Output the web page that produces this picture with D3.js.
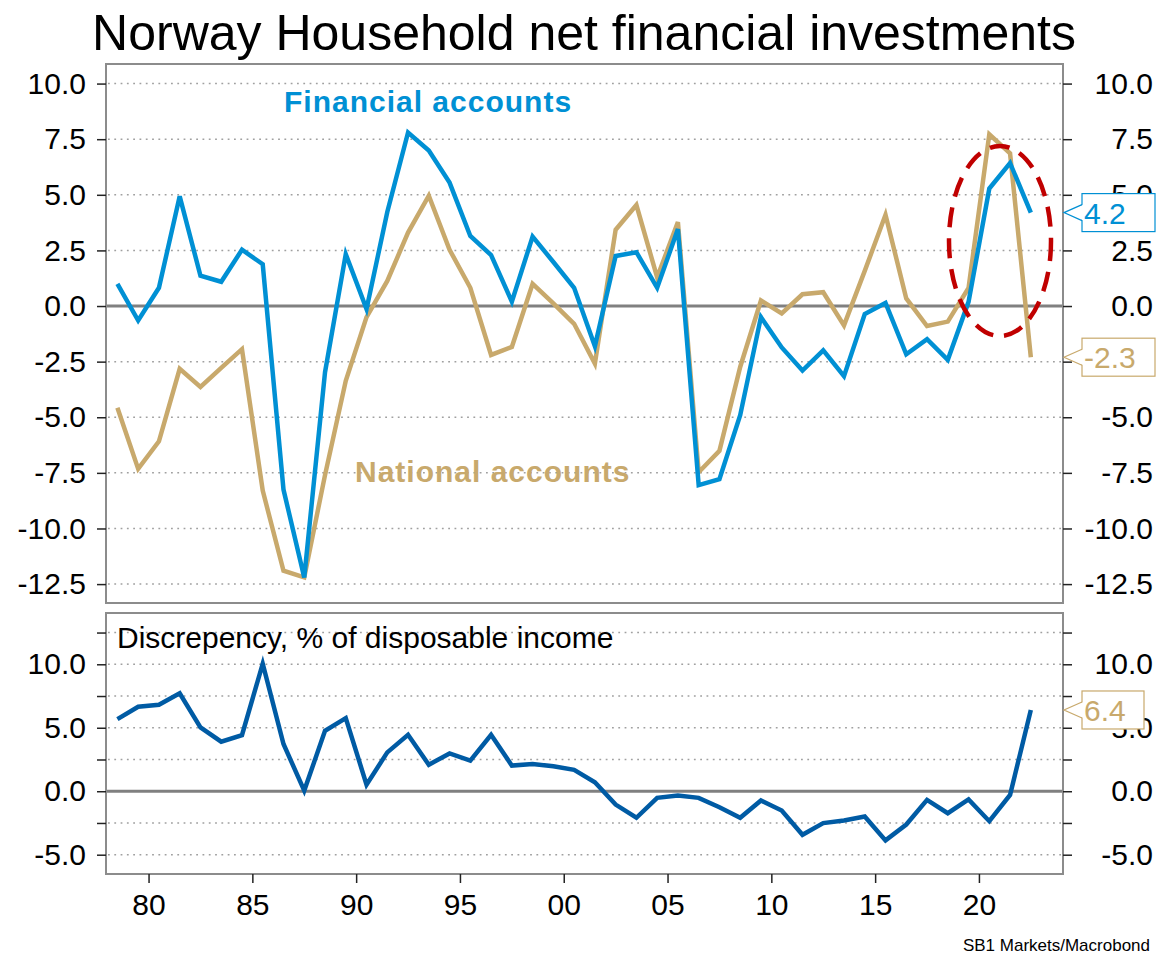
<!DOCTYPE html>
<html>
<head>
<meta charset="utf-8">
<script src="https://cdn.jsdelivr.net/npm/d3@7"></script>
<style>
  body { margin: 0; background: #fff; }
  svg text { font-family: "Liberation Sans", Arial, sans-serif; }
</style>
</head>
<body>
<div id="chart"></div>
<script>
// annual data, 1978 - 2022
let years = d3.range(1978, 2023);

let financial = [1.0, -0.65, 0.82, 4.93, 1.36, 1.09, 2.53, 1.88, -8.25, -12.2,
    -2.98, 2.33, -0.14, 4.23, 7.8, 6.99, 5.55, 3.15, 2.29, 0.2,
    3.12, 1.98, 0.82, -1.81, 2.25, 2.42, 0.82, 3.46, -8.05, -7.78,
    -4.91, -0.5, -1.86, -2.9, -1.99, -3.15, -0.36, 0.14, -2.17, -1.49,
    -2.42, 0.19, 5.28, 6.43, 4.2];

let national = [-4.57, -7.32, -6.08, -2.82, -3.64, -2.78, -1.94, -8.3, -11.9, -12.2,
    -7.6, -3.36, -0.5, 1.13, 3.3, 4.96, 2.53, 0.82, -2.2, -1.84,
    1.0, 0.12, -0.8, -2.59, 3.43, 4.54, 1.29, 3.77, -7.47, -6.51,
    -2.74, 0.25, -0.33, 0.53, 0.62, -0.87, 1.58, 4.1, 0.34, -0.9,
    -0.7, 0.81, 7.72, 6.86, -2.3];

let discrepancy = [5.68, 6.65, 6.81, 7.72, 5.03, 3.9, 4.42, 10.05, 3.72, 0.05,
    4.76, 5.76, 0.52, 3.06, 4.45, 2.09, 2.98, 2.41, 4.45, 2.02,
    2.15, 1.96, 1.68, 0.71, -1.05, -2.09, -0.52, -0.34, -0.52, -1.26,
    -2.09, -0.73, -1.52, -3.43, -2.51, -2.3, -1.99, -3.87, -2.62, -0.68,
    -1.73, -0.65, -2.36, -0.29, 6.4];

let topTicks = d3.range(-12.5, 10.01, 2.5);
let bottomTicks = d3.range(-5, 12.51, 2.5);
let yearTicks = [1980, 1985, 1990, 1995, 2000, 2005, 2010, 2015, 2020];

let blue = "#0090d4", tan = "#c8a96c", darkBlue = "#005ba4",
    frameColor = "#8c8c8c", gridColor = "#a0a0a0";

let plotLeft = 106, plotRight = 1063;
let top1 = 64, bottom1 = 603, top2 = 613, bottom2 = 874;

let svg = d3.select("div#chart")
    .append("svg")
    .attr("width", 1157)
    .attr("height", 956);

svg.append("rect").attr("width", 1157).attr("height", 956).attr("fill", "#fff");

let x = d3.scaleLinear()
    .domain([1977.95, 2024.05])
    .range([plotLeft, plotRight]);

let yTop = d3.scaleLinear()
    .domain([-13.35, 10.88])
    .range([bottom1, top1]);

let yBot = d3.scaleLinear()
    .domain([-6.52, 14.04])
    .range([bottom2, top2]);

let fmt = function(v) { return (Math.abs(v) < 1e-9 ? 0 : v).toFixed(1); };

// title
svg.append("text")
    .attr("x", 584)
    .attr("y", 50)
    .attr("text-anchor", "middle")
    .style("font-size", "50px")
    .text("Norway Household net financial investments");

// grid lines + zero lines
function grid(ticks, y) {
    svg.append("g").selectAll("line")
        .data(ticks)
        .enter()
        .append("line")
        .attr("x1", plotLeft + 2)
        .attr("x2", plotRight - 2)
        .attr("y1", function(d) { return y(d); })
        .attr("y2", function(d) { return y(d); })
        .attr("stroke", gridColor)
        .attr("stroke-width", 1.5)
        .attr("stroke-dasharray", "1.8,4.5");
    svg.append("line")
        .attr("x1", plotLeft)
        .attr("x2", plotRight)
        .attr("y1", y(0))
        .attr("y2", y(0))
        .attr("stroke", "#808080")
        .attr("stroke-width", 3);
}
grid(topTicks, yTop);
grid(bottomTicks, yBot);

// frames
svg.append("rect")
    .attr("x", plotLeft).attr("y", top1)
    .attr("width", plotRight - plotLeft).attr("height", bottom1 - top1)
    .attr("fill", "none").attr("stroke", frameColor).attr("stroke-width", 2);
svg.append("rect")
    .attr("x", plotLeft).attr("y", top2)
    .attr("width", plotRight - plotLeft).attr("height", bottom2 - top2)
    .attr("fill", "none").attr("stroke", frameColor).attr("stroke-width", 2);

// lines
function drawLine(values, y, color) {
    let line = d3.line()
        .x(function(d, i) { return x(years[i] + 0.5); })
        .y(function(d) { return y(d); });
    svg.append("path")
        .datum(values)
        .attr("fill", "none")
        .attr("stroke", color)
        .attr("stroke-width", 4.5)
        .attr("d", line);
}
drawLine(national, yTop, tan);
drawLine(financial, yTop, blue);
drawLine(discrepancy, yBot, darkBlue);

// highlight ellipse
svg.append("ellipse")
    .attr("cx", 1000)
    .attr("cy", 241)
    .attr("rx", 51)
    .attr("ry", 95)
    .attr("fill", "none")
    .attr("stroke", "#c00000")
    .attr("stroke-width", 4.5)
    .attr("stroke-dasharray", "20,11");

// series labels
svg.append("text")
    .attr("x", 284).attr("y", 112)
    .attr("fill", blue)
    .style("font-size", "30px").style("font-weight", "bold")
    .style("letter-spacing", "1px")
    .text("Financial accounts");
svg.append("text")
    .attr("x", 355).attr("y", 482)
    .attr("fill", tan)
    .style("font-size", "30px").style("font-weight", "bold")
    .style("letter-spacing", "1px")
    .text("National accounts");
svg.append("text")
    .attr("x", 117).attr("y", 648)
    .style("font-size", "30px")
    .text("Discrepency, % of disposable income");

// axes
function styleAxis(g, anchor, dx) {
    g.select(".domain").remove();
    g.selectAll(".tick line").attr("stroke", "#222").attr("stroke-width", 1.5);
    g.selectAll(".tick text")
        .style("font-size", "30px")
        .attr("fill", "#000");
    if (anchor) {
        g.selectAll(".tick text").attr("text-anchor", anchor).attr("x", dx);
    }
}

let bottomFmt = function(d) { return d % 5 === 0 ? fmt(d) : ""; };

svg.append("g")
    .attr("transform", "translate(" + plotLeft + ",0)")
    .call(d3.axisLeft(yTop).tickValues(topTicks).tickSize(9).tickPadding(11).tickFormat(fmt))
    .call(styleAxis);
svg.append("g")
    .attr("transform", "translate(" + plotRight + ",0)")
    .call(d3.axisRight(yTop).tickValues(topTicks).tickSize(9).tickFormat(fmt))
    .call(function(g) { styleAxis(g, "end", 90); });
svg.append("g")
    .attr("transform", "translate(" + plotLeft + ",0)")
    .call(d3.axisLeft(yBot).tickValues(bottomTicks).tickSize(9).tickPadding(11).tickFormat(bottomFmt))
    .call(styleAxis);
svg.append("g")
    .attr("transform", "translate(" + plotRight + ",0)")
    .call(d3.axisRight(yBot).tickValues(bottomTicks).tickSize(9).tickFormat(bottomFmt))
    .call(function(g) { styleAxis(g, "end", 90); });
svg.append("g")
    .attr("transform", "translate(0," + bottom2 + ")")
    .call(d3.axisBottom(x).tickValues(yearTicks).tickSize(9).tickPadding(11)
        .tickFormat(function(d) { return String(d % 100).padStart(2, "0"); }))
    .call(styleAxis);

// last value call-outs
function callout(value, y, color, boxWidth) {
    let ty = y(value), bx = 1082, tip = 1064;
    let g = svg.append("g");
    g.append("rect")
        .attr("x", bx).attr("y", ty - 19)
        .attr("width", boxWidth).attr("height", 38)
        .attr("fill", "#fff")
        .attr("stroke", color).attr("stroke-width", 1.2);
    // white wedge hides the box edge behind the pointer
    g.append("path")
        .attr("d", "M" + (bx + 1.5) + "," + (ty - 8) + "L" + tip + "," + ty + "L" + (bx + 1.5) + "," + (ty + 8) + "Z")
        .attr("fill", "#fff");
    g.append("path")
        .attr("d", "M" + bx + "," + (ty - 8) + "L" + tip + "," + ty + "L" + bx + "," + (ty + 8))
        .attr("fill", "none")
        .attr("stroke", color).attr("stroke-width", 1.2);
    g.append("text")
        .attr("x", bx + 2).attr("y", ty + 11)
        .attr("fill", color)
        .style("font-size", "30px")
        .text(fmt(value));
}
callout(financial[financial.length - 1], yTop, blue, 73);
callout(national[national.length - 1], yTop, tan, 73);
callout(discrepancy[discrepancy.length - 1], yBot, tan, 62);

// source
svg.append("text")
    .attr("x", 1150).attr("y", 951)
    .attr("text-anchor", "end")
    .style("font-size", "17px")
    .text("SB1 Markets/Macrobond");
</script>
</body>
</html>
